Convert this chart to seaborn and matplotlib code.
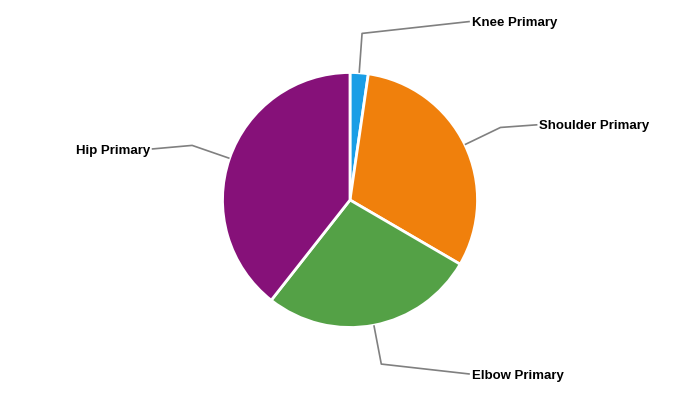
import numpy as np
import matplotlib
matplotlib.use('Agg')
import matplotlib.pyplot as plt
import seaborn as sns

sns.set_theme(style='white')
plt.rcParams['font.family'] = ['Liberation Sans', 'DejaVu Sans']

# data (share of the total, %)
categories = ['Knee Primary', 'Shoulder Primary', 'Elbow Primary', 'Hip Primary']
values = [2.3, 31.1, 27.2, 39.4]
colors = ['#1a9ee6', '#f0800c', '#54a146', '#861179']

# where each label sits (axes units, pie radius = 1) and its alignment
label_pos = [(0.94, 1.40), (1.47, 0.59), (0.94, -1.365), (-1.555, 0.40)]
label_ha = ['left', 'left', 'left', 'right']

fig = plt.figure(figsize=(7, 4), dpi=100)
ax = fig.add_axes([0, 0, 1, 1])

wedges, _ = ax.pie(values, colors=colors, startangle=90, counterclock=False,
                   radius=1.0, center=(0, 0),
                   wedgeprops={'edgecolor': 'white', 'linewidth': 2})

for w, name, (tx, ty), ha in zip(wedges, categories, label_pos, label_ha):
    mid = np.deg2rad((w.theta1 + w.theta2) / 2)
    x0, y0 = np.cos(mid), np.sin(mid)
    x1, y1 = 1.31 * x0, 1.31 * y0
    ax.plot([x0, x1, tx], [y0, y1, ty], color='#808080', lw=1.2,
            solid_capstyle='butt', zorder=1)
    pad = 0.015 if ha == 'left' else -0.015
    ax.text(tx + pad, ty, name, ha=ha, va='center_baseline', fontsize=9.5,
            fontweight='bold', color='black')

ax.set_xlim(-350 / 127.5, 350 / 127.5)
ax.set_ylim(-200 / 127.5, 200 / 127.5)
ax.set_aspect('equal')
ax.axis('off')

fig.savefig('out.png', dpi=100)
